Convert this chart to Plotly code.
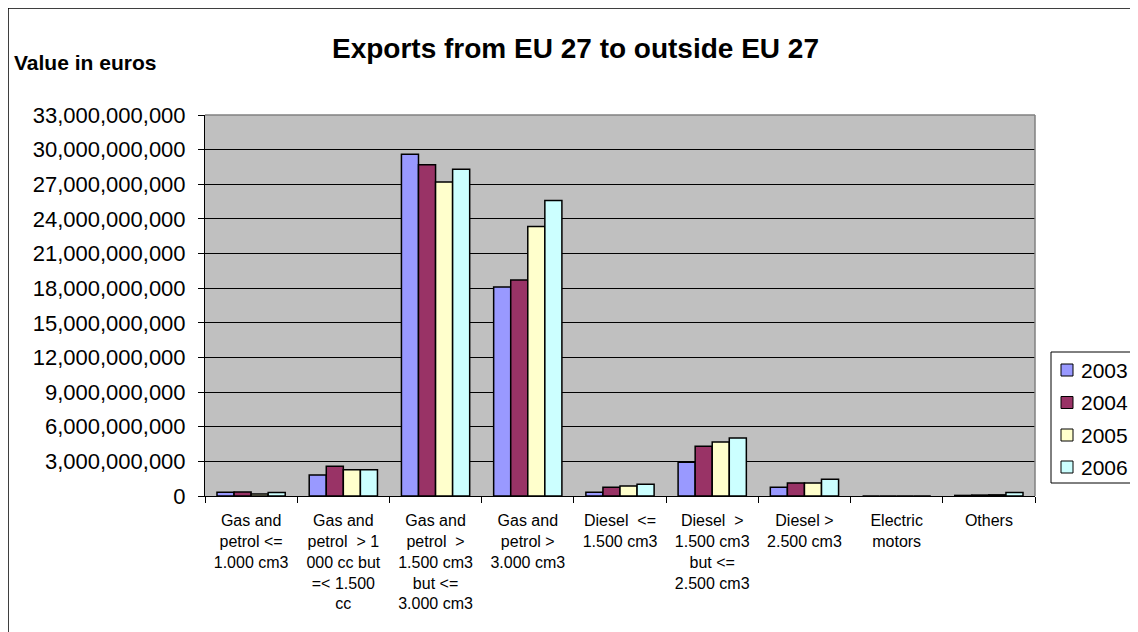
import plotly.graph_objects as go

categories = [
    "Gas and<br>petrol <=<br>1.000 cm3",
    "Gas and<br>petrol  > 1<br>000 cc but<br>=< 1.500<br>cc",
    "Gas and<br>petrol  ><br>1.500 cm3<br>but <=<br>3.000 cm3",
    "Gas and<br>petrol ><br>3.000 cm3",
    "Diesel  <=<br>1.500 cm3",
    "Diesel  ><br>1.500 cm3<br>but <=<br>2.500 cm3",
    "Diesel ><br>2.500 cm3",
    "Electric<br>motors",
    "Others",
]
years = ["2003", "2004", "2005", "2006"]
v2003 = [0.32e9, 1.82e9, 29.6e9, 18.1e9, 0.32e9, 2.92e9, 0.75e9, 0, 0.05e9]
v2004 = [0.35e9, 2.57e9, 28.7e9, 18.7e9, 0.75e9, 4.30e9, 1.13e9, 0, 0.08e9]
v2005 = [0.17e9, 2.28e9, 27.2e9, 23.35e9, 0.87e9, 4.68e9, 1.13e9, 0, 0.10e9]
v2006 = [0.30e9, 2.28e9, 28.3e9, 25.6e9, 1.01e9, 5.02e9, 1.45e9, 0, 0.30e9]
series = [v2003, v2004, v2005, v2006]
colors = ["#9999FF", "#993366", "#FFFFCC", "#CCFFFF"]

# figure size (page body has an 8px margin)
W, H = 1130, 624
L, R, T, B = 197, 103, 107, 136
pw = W - L - R
ph = H - T - B


def px(x):
    return (x - L) / pw


def py(y):
    return 1 - (y - T) / ph


fig = go.Figure()
for name, vals, col in zip(years, series, colors):
    fig.add_trace(go.Bar(
        x=categories, y=vals, name=name,
        marker=dict(color=col, line=dict(color="black", width=1.5)),
        showlegend=False,
    ))

font_family = "Liberation Sans, Arial, sans-serif"

shapes = [
    dict(type="line", xref="paper", yref="paper", x0=1, x1=1, y0=0, y1=1,
         line=dict(color="#808080", width=1.5)),
    dict(type="line", xref="paper", yref="paper", x0=0, x1=1, y0=1, y1=1,
         line=dict(color="#808080", width=1.5)),
    dict(type="rect", xref="paper", yref="paper",
         x0=px(0), x1=px(W + 10), y0=py(H + 10), y1=py(0),
         line=dict(color="black", width=1.5), layer="below"),
    # legend frame
    dict(type="rect", xref="paper", yref="paper",
         x0=px(1043), x1=px(1126), y0=py(475), y1=py(344),
         line=dict(color="black", width=1), fillcolor="white"),
]
annotations = [
    dict(text="<b>Exports from EU 27 to outside EU 27</b>", x=px(567), y=py(40),
         xanchor="center", yanchor="middle",
         xref="paper", yref="paper", showarrow=False, font=dict(size=28)),
    dict(text="<b>Value in euros</b>", x=px(4), y=py(54), xanchor="left", yanchor="middle",
         xref="paper", yref="paper", showarrow=False, font=dict(size=21)),
]

# manual legend
row_y = [362, 394.5, 427, 459]
for name, col, ry in zip(years, colors, row_y):
    shapes.append(dict(type="rect", xref="paper", yref="paper",
                       x0=px(1053), x1=px(1065), y0=py(ry + 6), y1=py(ry - 6),
                       line=dict(color="black", width=1), fillcolor=col))
    annotations.append(dict(text=name, x=px(1071), y=py(ry), xanchor="left",
                            yanchor="middle", xref="paper", yref="paper",
                            showarrow=False, font=dict(size=21)))

fig.update_layout(
    width=W, height=H,
    margin=dict(l=L, r=R, t=T, b=B, autoexpand=False),
    paper_bgcolor="white",
    plot_bgcolor="#C0C0C0",
    barmode="group",
    bargap=0.26,
    bargroupgap=0,
    font=dict(family=font_family, color="black"),
    showlegend=False,
    xaxis=dict(
        showline=True, linecolor="black", linewidth=1,
        ticks="outside", tickson="boundaries", ticklen=6, tickcolor="black",
        tickfont=dict(size=16), ticklabelstandoff=10,
    ),
    yaxis=dict(
        range=[0, 33e9], dtick=3e9, tickformat=",d",
        showgrid=True, gridcolor="black", gridwidth=1,
        showline=True, linecolor="black", linewidth=1,
        ticks="outside", ticklen=6, tickcolor="black",
        tickfont=dict(size=22), ticklabelstandoff=8,
        zeroline=False,
    ),
    annotations=annotations,
    shapes=shapes,
)

fig.write_html("out.html")
